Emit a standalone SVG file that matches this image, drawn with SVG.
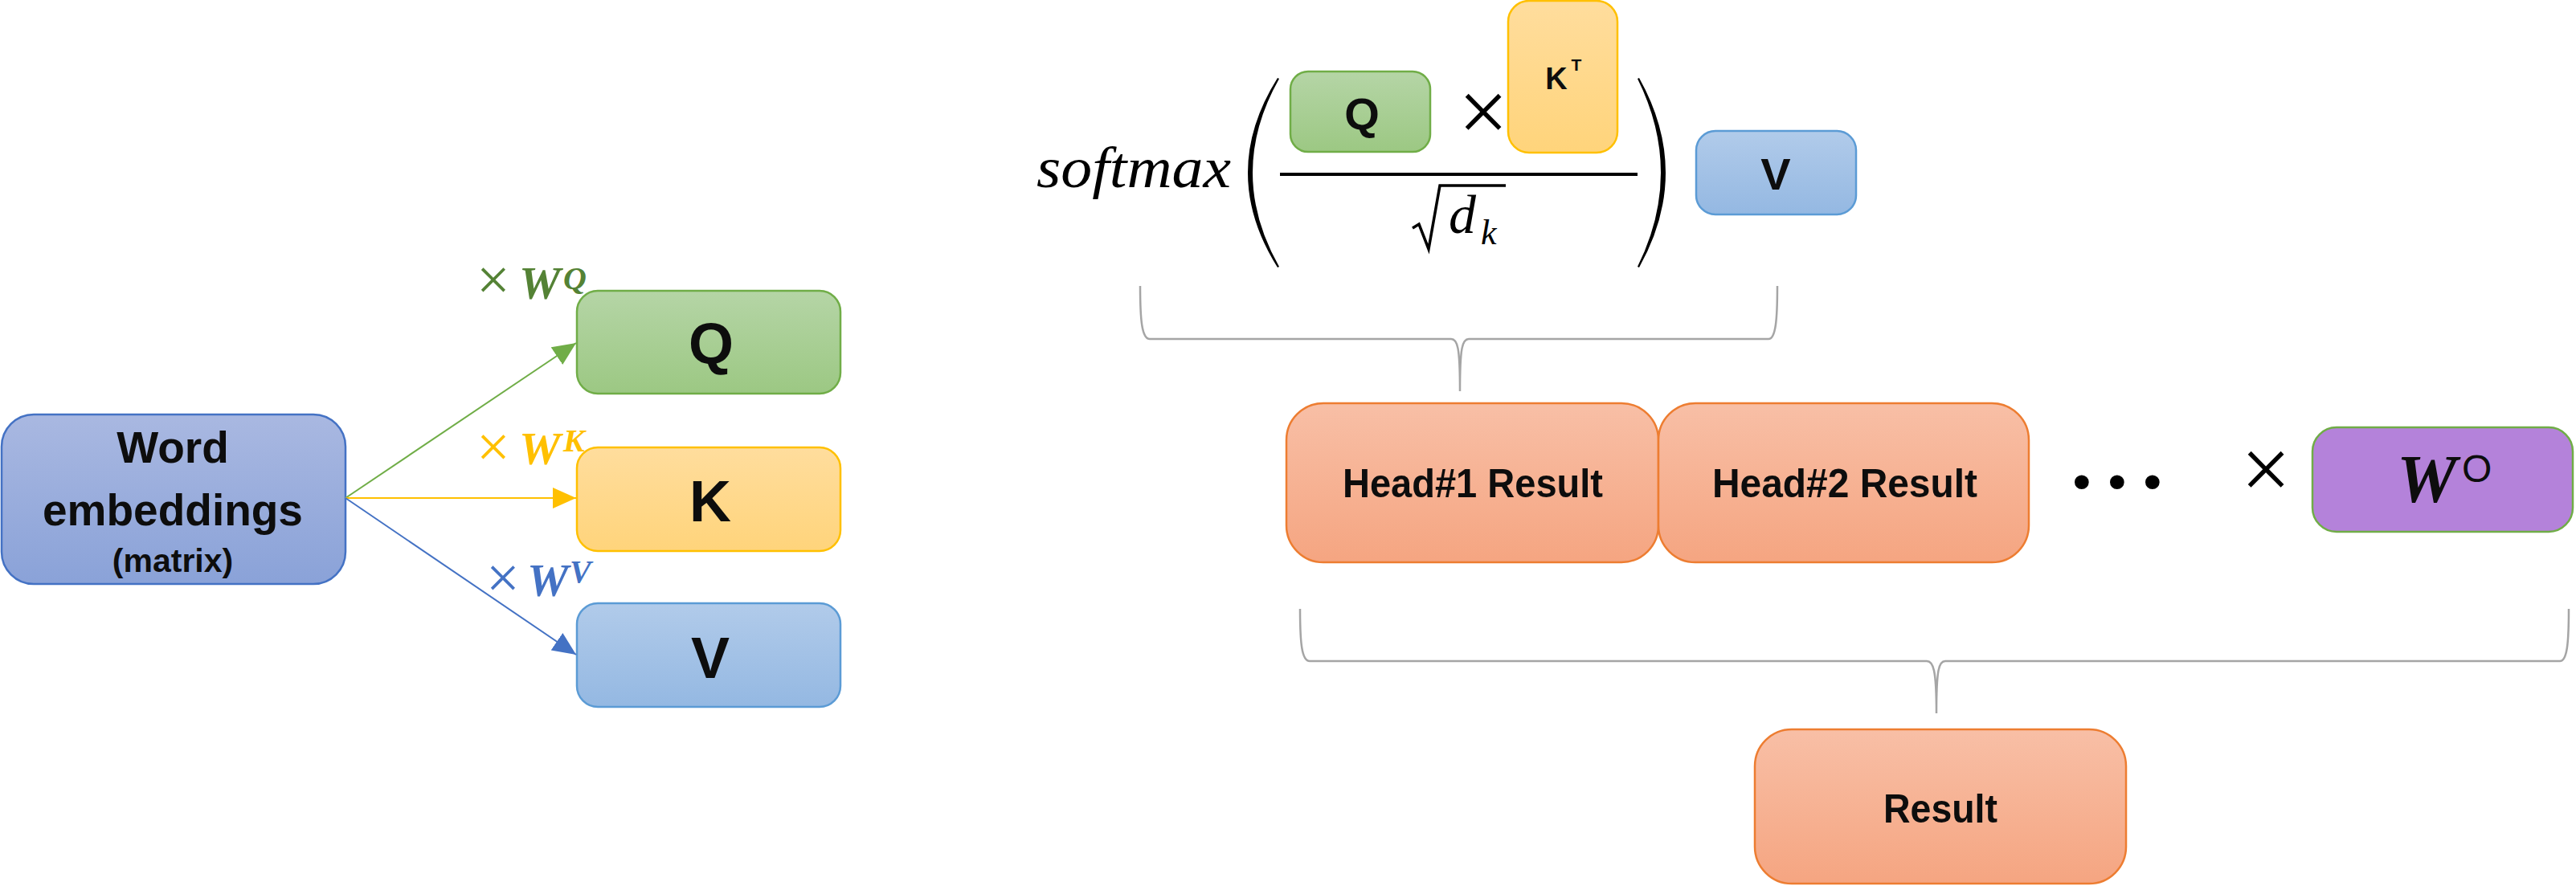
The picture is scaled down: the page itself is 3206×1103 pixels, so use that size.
<svg xmlns="http://www.w3.org/2000/svg" width="3206" height="1103" viewBox="0 0 3206 1103">
<defs>
<linearGradient id="gBlueDark" x1="0" y1="0" x2="0" y2="1"><stop offset="0" stop-color="#A9B8E1"/><stop offset="1" stop-color="#8AA2D8"/></linearGradient>
<linearGradient id="gGreen" x1="0" y1="0" x2="0" y2="1"><stop offset="0" stop-color="#B5D5A6"/><stop offset="1" stop-color="#9CC883"/></linearGradient>
<linearGradient id="gYellow" x1="0" y1="0" x2="0" y2="1"><stop offset="0" stop-color="#FFDD9D"/><stop offset="1" stop-color="#FFD47B"/></linearGradient>
<linearGradient id="gBlue" x1="0" y1="0" x2="0" y2="1"><stop offset="0" stop-color="#B1CBEA"/><stop offset="1" stop-color="#94B8E2"/></linearGradient>
<linearGradient id="gOrange" x1="0" y1="0" x2="0" y2="1"><stop offset="0" stop-color="#F8BFA6"/><stop offset="1" stop-color="#F5A581"/></linearGradient>
<marker id="aG" markerUnits="userSpaceOnUse" markerWidth="30" markerHeight="28" refX="29" refY="13" orient="auto"><path d="M0,0 L29,13 L0,26 Z" fill="#70AD47"/></marker>
<marker id="aY" markerUnits="userSpaceOnUse" markerWidth="30" markerHeight="28" refX="29" refY="13" orient="auto"><path d="M0,0 L29,13 L0,26 Z" fill="#FFC000"/></marker>
<marker id="aB" markerUnits="userSpaceOnUse" markerWidth="30" markerHeight="28" refX="29" refY="13" orient="auto"><path d="M0,0 L29,13 L0,26 Z" fill="#4472C4"/></marker>
<style>
.lbl{font-family:"Liberation Sans",Arial,sans-serif;font-weight:bold;fill:#0D0D0D;text-anchor:middle}
.math{font-family:"Liberation Serif","Times New Roman",serif;font-style:italic}
.mb{font-family:"Liberation Serif","Times New Roman",serif;font-style:italic;font-weight:bold}
.sans{font-family:"Liberation Sans",Arial,sans-serif}
.x{font-family:"Liberation Serif","Times New Roman",serif}
.brace{fill:none;stroke:#A5A5A5;stroke-width:2.5}
</style>
</defs>
<rect width="3206" height="1103" fill="#FFFFFF"/>

<g id="word-embeddings">
<rect x="2" y="516" width="428" height="211" rx="40" fill="url(#gBlueDark)" stroke="#4472C4" stroke-width="2.5"/>
<text class="lbl" x="215" y="576" font-size="55">Word</text>
<text class="lbl" x="215" y="654" font-size="55">embeddings</text>
<text class="lbl" x="215" y="712" font-size="41">(matrix)</text>
</g>

<g id="node-Q">
<rect x="718" y="362" width="328" height="128" rx="26" fill="url(#gGreen)" stroke="#70AD47" stroke-width="2.5"/>
<text class="lbl" x="885" y="453" font-size="72">Q</text>
</g>
<g id="node-K">
<rect x="718" y="557" width="328" height="129" rx="26" fill="url(#gYellow)" stroke="#FFC000" stroke-width="2.5"/>
<text class="lbl" x="884" y="649" font-size="72">K</text>
</g>
<g id="node-V">
<rect x="718" y="751" width="328" height="129" rx="26" fill="url(#gBlue)" stroke="#5B9BD5" stroke-width="2.5"/>
<text class="lbl" x="884" y="844" font-size="72">V</text>
</g>

<g id="connectors">
<line x1="430" y1="620" x2="717" y2="427" stroke="#70AD47" stroke-width="2" marker-end="url(#aG)"/>
<line x1="430" y1="620" x2="717" y2="620" stroke="#FFC000" stroke-width="2" marker-end="url(#aY)"/>
<line x1="430" y1="620" x2="717" y2="815" stroke="#4472C4" stroke-width="2" marker-end="url(#aB)"/>
</g>

<g id="label-WQ" fill="#548235">
<text class="x" x="593" y="373" font-size="74">×</text>
<text class="mb" x="646" y="372" font-size="58">W</text>
<text class="mb" x="701" y="360" font-size="40">Q</text>
</g>
<g id="label-WK" fill="#FFC000">
<text class="x" x="593" y="581" font-size="74">×</text>
<text class="mb" x="646" y="578" font-size="58">W</text>
<text class="mb" x="701" y="562" font-size="40">K</text>
</g>
<g id="label-WV" fill="#4472C4">
<text class="x" x="605" y="744" font-size="74">×</text>
<text class="mb" x="656" y="742" font-size="58">W</text>
<text class="mb" x="709" y="725" font-size="40">V</text>
</g>

<g id="formula">
<text class="math" x="1290" y="233" font-size="72" textLength="242" lengthAdjust="spacingAndGlyphs">softmax</text>
<path d="M1590,97 Q1516,215 1590,333 L1592,332 Q1526,215 1592,98 Z" fill="#000"/>
<path d="M2040,97 Q2106,215 2040,333 L2038,332 Q2096,215 2038,98 Z" fill="#000"/>
<line x1="1593" y1="217" x2="2038" y2="217" stroke="#000" stroke-width="4"/>
<path d="M1758,284 L1766,279 L1778,310 L1792,231 L1874,231" fill="none" stroke="#000" stroke-width="3.5" stroke-linejoin="miter"/>
<text class="math" x="1803" y="290" font-size="68">d</text>
<text class="math" x="1843" y="304" font-size="44">k</text>
<text class="x" x="1815" y="176" font-size="110">×</text>
</g>

<g id="node-Q-small">
<rect x="1606" y="89" width="174" height="100" rx="22" fill="url(#gGreen)" stroke="#70AD47" stroke-width="2.5"/>
<text class="lbl" x="1695" y="161" font-size="56">Q</text>
</g>
<g id="node-KT">
<rect x="1877" y="1" width="136" height="189" rx="26" fill="url(#gYellow)" stroke="#FFC000" stroke-width="2.5"/>
<text class="lbl" x="1937" y="111" font-size="38">K</text>
<text class="lbl" x="1962" y="88" font-size="21">T</text>
</g>
<g id="node-V-small">
<rect x="2111" y="163" width="199" height="104" rx="24" fill="url(#gBlue)" stroke="#5B9BD5" stroke-width="2.5"/>
<text class="lbl" x="2210" y="236" font-size="56">V</text>
</g>

<g id="braces">
<path class="brace" d="M1419,356 C1419,398 1421,422 1431,422 L1806,422 C1814,422 1817,432 1817,487 C1817,432 1820,422 1828,422 L2201,422 C2210,422 2212,398 2212,356"/>
<path class="brace" d="M1618,758 C1618,800 1620,823 1630,823 L2398,823 C2406,823 2410,833 2410,888 C2410,833 2413,823 2421,823 L3186,823 C3195,823 3197,800 3197,758"/>
</g>

<g id="head1">
<rect x="1601" y="502" width="463" height="198" rx="46" fill="url(#gOrange)" stroke="#ED7D31" stroke-width="2.5"/>
<text class="lbl" x="1833" y="619" font-size="50" textLength="324" lengthAdjust="spacingAndGlyphs">Head#1 Result</text>
</g>
<g id="head2">
<rect x="2064" y="502" width="461" height="198" rx="46" fill="url(#gOrange)" stroke="#ED7D31" stroke-width="2.5"/>
<text class="lbl" x="2296" y="619" font-size="50" textLength="330" lengthAdjust="spacingAndGlyphs">Head#2 Result</text>
</g>

<g id="ellipsis">
<text class="sans" font-size="62" font-weight="bold" fill="#000" x="2580 2624 2668" y="620">•••</text>
</g>
<g id="times-WO">
<text class="x" x="2789" y="621" font-size="110">×</text>
</g>
<g id="node-WO">
<rect x="2878" y="532" width="324" height="130" rx="30" fill="#B482DA" stroke="#70AD47" stroke-width="2.5"/>
<text class="mb" x="2983" y="625" font-size="84" fill="#0D0D0D">W</text>
<text class="sans" x="3064" y="600" font-size="48" fill="#0D0D0D">O</text>
</g>

<g id="result">
<rect x="2184" y="908" width="462" height="192" rx="46" fill="url(#gOrange)" stroke="#ED7D31" stroke-width="2.5"/>
<text class="lbl" x="2415" y="1024" font-size="50" textLength="142" lengthAdjust="spacingAndGlyphs">Result</text>
</g>
</svg>
